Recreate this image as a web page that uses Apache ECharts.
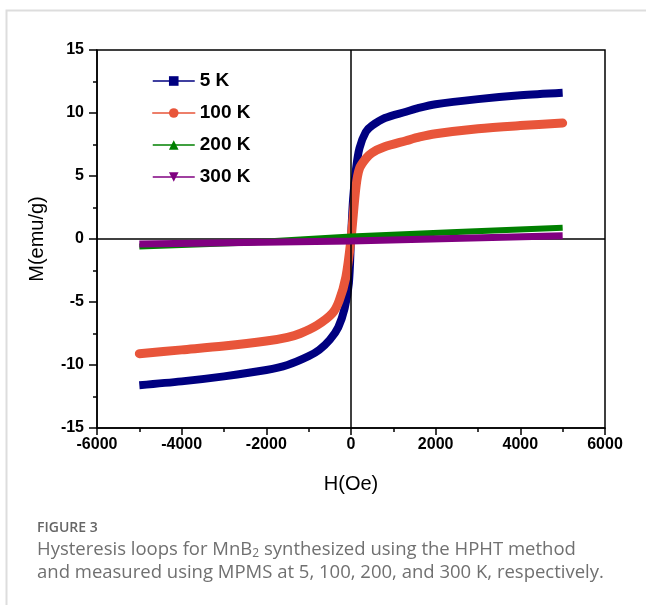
<!DOCTYPE html>
<html>
<head>
<meta charset="utf-8">
<script src="https://cdn.jsdelivr.net/npm/echarts@6/dist/echarts.min.js"></script>
<style>
  html, body { margin: 0; padding: 0; background: #fff; }
  #chart { width: 646px; height: 605px; }
</style>
</head>
<body>
<div id="chart"></div>
<script>
// hysteresis data, [H (Oe), M (emu/g)]
const seriesNames = ['5 K', '100 K', '200 K', '300 K']
const seriesColors = ['#000080', '#E8553A', '#008000', '#800080']

const loop5K = [
  [-5000, -11.6], [-4000, -11.3], [-3000, -10.9], [-2000, -10.4], [-1500, -10.0],
  [-1000, -9.3], [-750, -8.8], [-500, -8.0], [-300, -7.0], [-150, -5.5], [-50, -3.5],
  [0, 0], [50, 3.2], [120, 5.6], [200, 7.2], [350, 8.5], [500, 9.0], [800, 9.6],
  [1300, 10.1], [1600, 10.4], [2000, 10.7], [3000, 11.1], [4000, 11.4], [5000, 11.6]
]
const loop100K = [
  [-5000, -9.1], [-4000, -8.8], [-3000, -8.5], [-2000, -8.1], [-1500, -7.8],
  [-1200, -7.5], [-800, -6.85], [-440, -5.9], [-280, -4.9], [-120, -3.0],
  [0, 0], [120, 4.2], [200, 5.6], [355, 6.4], [500, 6.85], [780, 7.3], [1300, 7.8],
  [1625, 8.1], [2000, 8.35], [3000, 8.75], [4000, 9.0], [5000, 9.2]
]
const loop200K = [[-5000, -0.6], [-2500, -0.3], [0, 0.2], [2500, 0.55], [5000, 0.9]]
const loop300K = [[-5000, -0.4], [0, -0.15], [5000, 0.25]]

const xTicks = { min: -6000, max: 6000, interval: 2000 }
const yTicks = { min: -15, max: 15, interval: 5 }

const myChart = echarts.init(document.getElementById('chart'))

const axisFont = { color: '#000', fontFamily: 'Liberation Sans', fontWeight: 'bold', fontSize: 16 }
const nameFont = { color: '#000', fontFamily: 'Liberation Sans', fontSize: 20 }

myChart.setOption({
  animation: false,
  grid: { left: 97, right: 41, top: 50, bottom: 177, show: true, borderColor: '#000', borderWidth: 1.5, backgroundColor: 'transparent' },
  legend: {
    orient: 'vertical',
    left: 147,
    top: 66,
    itemWidth: 42,
    itemHeight: 12,
    itemGap: 12,
    textStyle: { color: '#000', fontFamily: 'Liberation Sans', fontWeight: 'bold', fontSize: 19, lineHeight: 20 },
    lineStyle: { width: 1.5 },
    data: seriesNames
  },
  xAxis: {
    type: 'value',
    min: xTicks.min,
    max: xTicks.max,
    interval: xTicks.interval,
    name: 'H(Oe)',
    nameLocation: 'middle',
    nameGap: 46,
    nameTextStyle: nameFont,
    axisLine: { onZero: false, lineStyle: { color: '#000', width: 1.5 } },
    axisTick: { show: true, length: 7, lineStyle: { color: '#000', width: 1.5 } },
    minorTick: { show: true, splitNumber: 2, length: 4, lineStyle: { color: '#000', width: 1.5 } },
    splitLine: { show: false },
    axisLabel: Object.assign({ margin: 9, formatter: v => String(v) }, axisFont)
  },
  yAxis: {
    type: 'value',
    min: yTicks.min,
    max: yTicks.max,
    interval: yTicks.interval,
    name: 'M(emu/g)',
    nameLocation: 'middle',
    nameGap: 50,
    nameTextStyle: nameFont,
    axisLine: { onZero: false, lineStyle: { color: '#000', width: 1.5 } },
    axisTick: { show: true, length: 8, lineStyle: { color: '#000', width: 1.5 } },
    minorTick: { show: true, splitNumber: 2, length: 4, lineStyle: { color: '#000', width: 1.5 } },
    splitLine: { show: false },
    axisLabel: Object.assign({ margin: 13, formatter: v => String(v) }, axisFont)
  },
  series: [
    {
      name: 'zero',
      type: 'line',
      data: [],
      z: 1,
      silent: true,
      markLine: {
        silent: true,
        symbol: 'none',
        label: { show: false },
        lineStyle: { color: '#000', width: 1.5, type: 'solid' },
        data: [{ xAxis: 0 }, { yAxis: 0 }]
      }
    },
    {
      name: seriesNames[0], type: 'line', data: loop5K, color: seriesColors[0],
      symbol: 'rect', showSymbol: false, smooth: 0.3, z: 3,
      lineStyle: { width: 8, cap: 'butt' }
    },
    {
      name: seriesNames[1], type: 'line', data: loop100K, color: seriesColors[1],
      symbol: 'circle', showSymbol: false, smooth: 0.3, z: 4,
      lineStyle: { width: 9, cap: 'round' }
    },
    {
      name: seriesNames[2], type: 'line', data: loop200K, color: seriesColors[2],
      symbol: 'triangle', showSymbol: false, z: 5,
      lineStyle: { width: 6 }
    },
    {
      name: seriesNames[3], type: 'line', data: loop300K, color: seriesColors[3],
      symbol: 'triangle', symbolRotate: 180, showSymbol: false, z: 6,
      lineStyle: { width: 7 }
    }
  ],
  graphic: [
    {
      type: 'rect', left: 4, top: 8, silent: true,
      shape: { width: 700, height: 700 },
      style: { fill: 'none', stroke: '#dddddd', lineWidth: 2 }
    },
    {
      type: 'text', left: 37, top: 521,
      style: { text: 'FIGURE 3', fill: '#666', font: '600 14px "Open Sans"' }
    },
    {
      type: 'text', left: 37, top: 539,
      style: {
        text: '{a|Hysteresis loops for MnB}{s|2}{a| synthesized using the HPHT method}\n{a|and measured using MPMS at 5, 100, 200, and 300 K, respectively.}',
        fill: '#707070',
        rich: {
          a: { fontFamily: 'Open Sans', fontSize: 18.5, fill: '#707070', lineHeight: 23 },
          s: { fontFamily: 'Open Sans', fontSize: 12, fill: '#707070', lineHeight: 23, padding: [9, 0, 0, 0] }
        }
      }
    }
  ]
})
</script>
</body>
</html>
